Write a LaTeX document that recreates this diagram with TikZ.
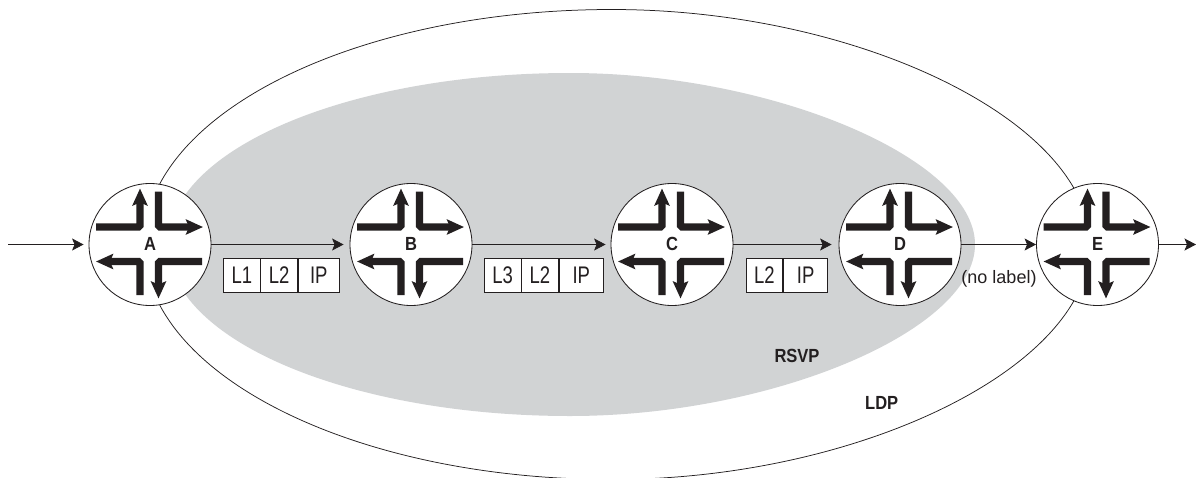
\documentclass[tikz,border=0pt]{standalone}
\usepackage{fontspec}
\setmainfont{Liberation Sans}
\newfontfamily\cellfont[FakeStretch=0.77]{Liberation Sans}
\newfontfamily\tagfont[FakeStretch=0.87,BoldFont={Liberation Sans Bold}]{Liberation Sans}
\usetikzlibrary{arrows.meta}
\definecolor{rsvpgrey}{HTML}{D1D3D4}
\definecolor{ink}{HTML}{231F20}
\tikzset{
  x=1pt,y=-1pt,
  conn/.style={draw=ink,line width=0.8pt,-{Stealth[length=11.5pt,width=12pt,inset=2.5pt]}},
  ldpline/.style={draw=ink,line width=0.75pt},
  routerbody/.style={circle,draw=ink,fill=white,line width=0.85pt,minimum size=122pt,inner sep=0pt,font=\fontsize{19}{19}\selectfont\tagfont\bfseries,text=ink},
  flow/.style={draw=ink,line width=7.3pt,rounded corners=1.5pt,-{Stealth[length=17pt,width=15pt,inset=3pt]}},
  cell/.style={draw=ink,fill=white,line width=0.75pt,minimum height=34.4pt,inner sep=0pt,anchor=west,font=\fontsize{24}{24}\selectfont\cellfont,text=ink},
  tag/.style={font=\fontsize{19}{19}\selectfont\tagfont\bfseries,text=ink,inner sep=0pt},
  note/.style={font=\fontsize{18}{18}\selectfont,text=ink,inner sep=0pt}
}
\newcommand{\routernode}[3]{%
  \node[routerbody] (#1) at (#2,244.5) {\raisebox{1.5pt}{#3}};
  \begin{scope}[shift={(#2,244.5)}]
    \draw[flow] (-54,-17.5) -- (-10,-17.5) -- (-10,-56);
    \draw[flow] (8.5,-53) -- (8.5,-17.5) -- (53,-17.5);
    \draw[flow] (-10,50.5) -- (-10,17) -- (-54,17);
    \draw[flow] (52,17) -- (8.5,17) -- (8.5,54);
  \end{scope}}
\begin{document}
\begin{tikzpicture}
\useasboundingbox (0,0) rectangle (1196,477);
\begin{scope}
\clip (0,0) rectangle (1196,477);
\draw[ldpline] (612,9.5) .. controls (860,9.5) and (1090,122.3) .. (1090,244.5)
  .. controls (1090,366.7) and (860,479.5) .. (612,479.5)
  .. controls (353.7,479.5) and (144,374.2) .. (144,244.5)
  .. controls (144,114.8) and (353.7,9.5) .. (612,9.5) -- cycle;
\end{scope}
\fill[rsvpgrey] (570,73) .. controls (772.5,73) and (975,158.75) .. (975,244.5)
  .. controls (975,330.25) and (772.5,416) .. (570,416)
  .. controls (348,416) and (168,339.2) .. (168,244.5)
  .. controls (168,149.8) and (348,73) .. (570,73) -- cycle;
\routernode{A}{150}{A}
\routernode{B}{411}{B}
\routernode{C}{672}{C}
\routernode{D}{900}{D}
\routernode{E}{1097.5}{E}
\coordinate (in) at (8,244.5);
\coordinate (out) at (1196,244.5);
\draw[conn] (in) -- ([xshift=-5pt]A.west);
\draw[conn] (A.east) -- ([xshift=-6pt]B.west);
\draw[conn] (B.east) -- ([xshift=-5pt]C.west);
\draw[conn] (C.east) -- ([xshift=-7pt]D.west);
\draw[conn] (D.east) -- (E.west);
\draw[conn] (E.east) -- (out);
\node[cell,minimum width=36.4pt] (a1) at (223.3,275.5) {L1};
\node[cell,minimum width=36.4pt] (a2) at (a1.east) {L2};
\node[cell,minimum width=41.6pt] (a3) at (a2.east) {IP};
\node[cell,minimum width=36.6pt] (b1) at (484,275.5) {L3};
\node[cell,minimum width=36.4pt] (b2) at (b1.east) {L2};
\node[cell,minimum width=44.7pt] (b3) at (b2.east) {IP};
\node[cell,minimum width=36.6pt] (c1) at (745.7,275.5) {L2};
\node[cell,minimum width=44.4pt] (c2) at (c1.east) {IP};
\node[note] (nolabel) at (999,279) {(no label)};
\node[tag] (rsvp) at (797,356) {RSVP};
\node[tag] (ldp) at (881.7,403) {LDP};
\end{tikzpicture}
\end{document}
